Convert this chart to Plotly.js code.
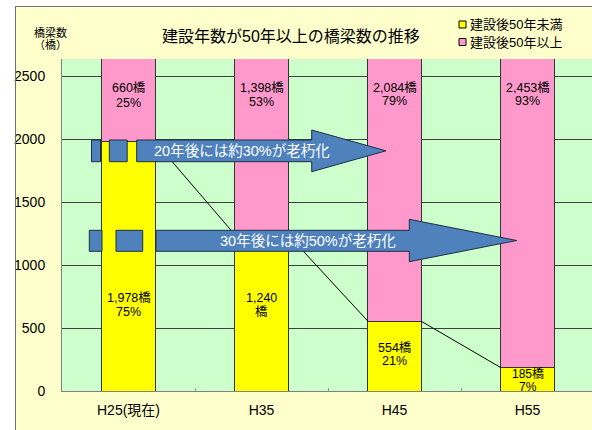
<!DOCTYPE html>
<html><head><meta charset="utf-8">
<script src="https://cdn.plot.ly/plotly-3.0.1.min.js"></script>
<style>html,body{margin:0;padding:0;background:#fff;}</style>
</head><body>
<div id="chart" style="width:592px;height:430px;"></div>
<script>
// ---- data ----
const categories = ['H25(現在)', 'H35', 'H45', 'H55'];
const under50 = [1978, 1240, 554, 185];      // 建設後50年未満
const over50  = [660, 1398, 2084, 2453];     // 建設後50年以上
const under50Labels = [['1,978橋', '75%'], ['1,240', '橋'], ['554橋', '21%'], ['185橋', '7%']];
const over50Labels  = [['660橋', '25%'], ['1,398橋', '53%'], ['2,084橋', '79%'], ['2,453橋', '93%']];
const seriesNames = ['建設後50年未満', '建設後50年以上'];
const yTicks = [0, 500, 1000, 1500, 2000, 2500];
const arrowTexts = ['20年後には約30%が老朽化', '30年後には約50%が老朽化'];
const yTitleLines = ['橋梁数', '（橋）'];

// ---- layout geometry ----
const L = 62, T = 59, W = 530, H = 332, FW = 592, FH = 430;
const xr = [-0.5, 3.485], yr = [0, 2635];
const barW = 0.4;
const xd = px => xr[0] + (px - L) / W * (xr[1] - xr[0]);
const yd = py => yr[1] - (py - T) / H * (yr[1] - yr[0]);
const xp = px => (px - L) / W;
const yp = py => 1 - (py - T) / H;
const xs = categories.map((c, i) => i);
const font = '"Liberation Sans", "Noto Sans CJK JP", sans-serif';

// connector lines between yellow segment tops
const cx = [], cy = [];
for (let i = 0; i < under50.length - 1; i++) {
  cx.push(xs[i] + barW / 2, xs[i + 1] - barW / 2, null);
  cy.push(under50[i], under50[i + 1], null);
}

const traces = [
  { type: 'bar', x: xs, y: under50, name: seriesNames[0], width: barW,
    marker: { color: '#FFFF00', line: { color: '#333333', width: 1 } }, showlegend: false, hoverinfo: 'skip' },
  { type: 'bar', x: xs, y: over50, name: seriesNames[1], width: barW,
    marker: { color: '#FF99CC', line: { color: '#333333', width: 1 } }, showlegend: false, hoverinfo: 'skip' },
  { type: 'scatter', mode: 'lines', x: cx, y: cy, line: { color: '#000000', width: 1 },
    showlegend: false, hoverinfo: 'skip', cliponaxis: false }
];

// arrow path helper (pixel coords -> data coords)
function arrowPath(x0, x1, yTop, yBot, headTop, headBot, tip, tipY) {
  const p = [[x0, yTop], [x1, yTop], [x1, headTop], [tip, tipY], [x1, headBot], [x1, yBot], [x0, yBot]];
  return 'M' + p.map(q => xd(q[0]) + ',' + yd(q[1])).join('L') + 'Z';
}
const arrowFill = '#4F81BD', arrowLine = '#1F2F45';
const rect = (x0, x1, y0, y1) => ({ type: 'rect', xref: 'x', yref: 'y', x0: xd(x0), x1: xd(x1), y0: yd(y0), y1: yd(y1),
  fillcolor: arrowFill, line: { color: arrowLine, width: 1 }, layer: 'above' });

const shapes = [
  // white margins outside the frame
  { type: 'rect', xref: 'paper', yref: 'paper', x0: xp(0), x1: xp(15), y0: yp(FH), y1: yp(0), fillcolor: '#FFFFFF', line: { width: 0 }, layer: 'below' },
  { type: 'rect', xref: 'paper', yref: 'paper', x0: xp(0), x1: xp(FW), y0: yp(6), y1: yp(0), fillcolor: '#FFFFFF', line: { width: 0 }, layer: 'below' },
  { type: 'line', xref: 'paper', yref: 'paper', x0: xp(15.5), x1: xp(15.5), y0: yp(6), y1: yp(FH), line: { color: '#707070', width: 1 } },
  { type: 'line', xref: 'paper', yref: 'paper', x0: xp(15), x1: xp(FW), y0: yp(6.5), y1: yp(6.5), line: { color: '#707070', width: 1 } },
  // arrow 1
  rect(91.5, 100.5, 140, 161.7),
  rect(109.3, 127.2, 140, 161.7),
  { type: 'path', xref: 'x', yref: 'y', path: arrowPath(136.7, 311.7, 140, 161.7, 130, 171.7, 386, 150.8),
    fillcolor: arrowFill, line: { color: arrowLine, width: 1 }, layer: 'above' },
  // arrow 2
  rect(89.3, 102, 230.3, 251.3),
  rect(116, 142.7, 230.3, 251.3),
  { type: 'path', xref: 'x', yref: 'y', path: arrowPath(156, 409.3, 230.3, 251.3, 219.3, 261.7, 516.7, 240.5),
    fillcolor: arrowFill, line: { color: arrowLine, width: 1 }, layer: 'above' },
  // legend squares
  { type: 'rect', xref: 'paper', yref: 'paper', x0: xp(459), x1: xp(466), y0: yp(21), y1: yp(28), fillcolor: '#FFFF00', line: { color: '#000', width: 1 } },
  { type: 'rect', xref: 'paper', yref: 'paper', x0: xp(459), x1: xp(466), y0: yp(38.5), y1: yp(45.5), fillcolor: '#FF99CC', line: { color: '#000', width: 1 } }
];

const txt = (text, px, py, size, color, anchor) => ({ text: text, xref: 'paper', yref: 'paper', x: xp(px), y: yp(py),
  showarrow: false, font: { family: font, size: size, color: color || '#000' }, xanchor: anchor || 'center', yanchor: 'middle' });

const annotations = [
  txt('建設年数が50年以上の橋梁数の推移', 291, 36, 16),
  txt(yTitleLines[0], 50, 32.5, 11),
  txt(yTitleLines[1], 50, 44.5, 11),
  txt(seriesNames[0], 467.5, 24.5, 13, '#000', 'left'),
  txt(seriesNames[1], 467.5, 42, 13, '#000', 'left'),
  txt(arrowTexts[0], 242, 151, 14.5, '#FFFFFF'),
  txt(arrowTexts[1], 308, 241, 14.5, '#FFFFFF')
];
const pinkLabelPy = [[88, 103], [88, 102], [88, 101], [88, 101]];
const yellowLabelPy = [[298, 312], [298, 312], [347.7, 361], [373.5, 386.5]];
xs.forEach((x, i) => {
  [0, 1].forEach(k => {
    annotations.push({ text: over50Labels[i][k], x: x, y: yd(pinkLabelPy[i][k]), xref: 'x', yref: 'y', showarrow: false,
      font: { family: font, size: 12.5, color: '#000' }, xanchor: 'center', yanchor: 'middle' });
    annotations.push({ text: under50Labels[i][k], x: x, y: yd(yellowLabelPy[i][k]), xref: 'x', yref: 'y', showarrow: false,
      font: { family: font, size: i === 3 ? 12 : 12.5, color: '#000' }, xanchor: 'center', yanchor: 'middle' });
  });
});

const layout = {
  width: FW, height: FH,
  margin: { l: L, r: FW - L - W, t: T, b: FH - T - H, pad: 0 },
  paper_bgcolor: '#FFFFCC', plot_bgcolor: '#CCFFCC',
  barmode: 'stack', showlegend: false,
  xaxis: { range: xr, tickmode: 'array', tickvals: xs, ticktext: categories, ticks: '',
    showgrid: false, zeroline: false, showline: true, linecolor: '#808080', linewidth: 1,
    tickfont: { family: font, size: 14, color: '#000' }, ticklabelstandoff: 6, fixedrange: true,
    minor: { tickmode: 'array', tickvals: [0.5, 1.5, 2.5], ticks: 'inside', ticklen: 3, tickcolor: '#999', tickwidth: 1, showgrid: false } },
  yaxis: { range: yr, tickmode: 'array', tickvals: yTicks, ticks: '', showgrid: true, gridcolor: '#404040', gridwidth: 1,
    zeroline: false, showline: true, linecolor: '#808080', linewidth: 1,
    tickfont: { family: font, size: 14, color: '#000' }, ticklabelstandoff: 13, fixedrange: true },
  shapes: shapes, annotations: annotations
};

Plotly.newPlot('chart', traces, layout, { staticPlot: true, displayModeBar: false });
</script>
</body></html>
